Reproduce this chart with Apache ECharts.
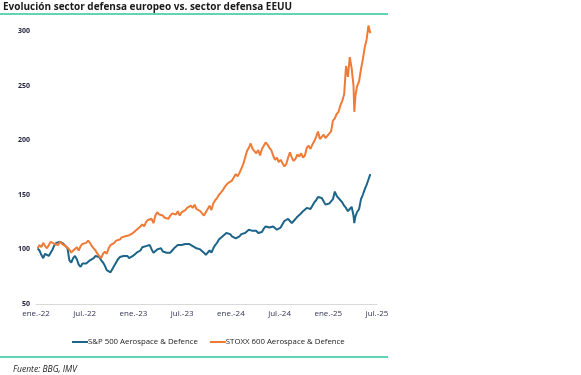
<!DOCTYPE html>
<html>
<head>
<meta charset="utf-8">
<script src="https://cdn.jsdelivr.net/npm/echarts@6/dist/echarts.min.js"></script>
<style>
html, body { margin: 0; padding: 0; background: #fff; }
#chart { width: 581px; height: 375px; }
</style>
</head>
<body>
<div id="chart"></div>
<script type="text/javascript">
// semanas (viernes) + 7-abr-25
var dates = [
	'2022-01-07','2022-01-14','2022-01-21','2022-01-28','2022-02-04','2022-02-11','2022-02-18','2022-02-25',
	'2022-03-04','2022-03-11','2022-03-18','2022-03-25','2022-04-01','2022-04-08','2022-04-14','2022-04-22','2022-04-29',
	'2022-05-06','2022-05-13','2022-05-20','2022-05-27','2022-06-03','2022-06-10','2022-06-17','2022-06-24',
	'2022-07-01','2022-07-08','2022-07-15','2022-07-22','2022-07-29','2022-08-05','2022-08-12','2022-08-19','2022-08-26',
	'2022-09-02','2022-09-09','2022-09-16','2022-09-23','2022-09-30','2022-10-07','2022-10-14','2022-10-21','2022-10-28',
	'2022-11-04','2022-11-11','2022-11-18','2022-11-25','2022-12-02','2022-12-09','2022-12-16','2022-12-23','2022-12-30',
	'2023-01-06','2023-01-13','2023-01-20','2023-01-27','2023-02-03','2023-02-10','2023-02-17','2023-02-24',
	'2023-03-03','2023-03-10','2023-03-17','2023-03-24','2023-03-31','2023-04-07','2023-04-14','2023-04-21','2023-04-28',
	'2023-05-05','2023-05-12','2023-05-19','2023-05-26','2023-06-02','2023-06-09','2023-06-16','2023-06-23','2023-06-30',
	'2023-07-07','2023-07-14','2023-07-21','2023-07-28','2023-08-04','2023-08-11','2023-08-18','2023-08-25',
	'2023-09-01','2023-09-08','2023-09-15','2023-09-22','2023-09-29','2023-10-06','2023-10-13','2023-10-20','2023-10-27',
	'2023-11-03','2023-11-10','2023-11-17','2023-11-24','2023-12-01','2023-12-08','2023-12-15','2023-12-22','2023-12-29',
	'2024-01-05','2024-01-12','2024-01-19','2024-01-26','2024-02-02','2024-02-09','2024-02-16','2024-02-23',
	'2024-03-01','2024-03-08','2024-03-15','2024-03-22','2024-03-29','2024-04-05','2024-04-12','2024-04-19','2024-04-26',
	'2024-05-03','2024-05-10','2024-05-17','2024-05-24','2024-05-31','2024-06-07','2024-06-14','2024-06-21','2024-06-28',
	'2024-07-05','2024-07-12','2024-07-19','2024-07-26','2024-08-02','2024-08-09','2024-08-16','2024-08-23','2024-08-30',
	'2024-09-06','2024-09-13','2024-09-20','2024-09-27','2024-10-04','2024-10-11','2024-10-18','2024-10-25',
	'2024-11-01','2024-11-08','2024-11-15','2024-11-22','2024-11-29','2024-12-06','2024-12-13','2024-12-20','2024-12-27',
	'2025-01-03','2025-01-10','2025-01-17','2025-01-24','2025-01-31','2025-02-07','2025-02-14','2025-02-21','2025-02-28',
	'2025-03-07','2025-03-14','2025-03-21','2025-03-28','2025-04-04','2025-04-07','2025-04-11','2025-04-17','2025-04-25',
	'2025-05-02','2025-05-09','2025-05-16','2025-05-23','2025-05-30','2025-06-06'
];

var spAero = [
	101,99,95,92, 96,97,94,93, 100,104,106,105, 107,106,105,103,101, 90,88,92,94, 91,86,84,87,
	86,87,88,90,89, 92,94,95,93, 90,88,85,81,80, 79,82,85,88, 91,93,92,94, 95,94,92,93,94,
	95,97,96,99, 102,101,103,102, 104,100,97,98,100, 99,101,98,99, 97,98,97,99, 101,102,104,103,104,
	103,105,106,105, 104,103,102,101, 102,100,99,97,95, 96,99,97,101, 104,106,109,110, 112,113,115,116,114,
	112,111,110,111, 112,114,113,115, 116,118,119,117,118, 117,115,114,116, 119,121,122,120,119, 121,120,118,119,
	120,123,126,125, 128,126,124,126,128, 130,131,133,135, 136,138,139,137, 140,143,145,148,149, 147,144,141,140,
	142,144,146,153,149, 147,145,143,140, 138,135,137,139, 131,124,130,134,137, 146,150,155,159,164, 169
];

var stoxxAero = [
	101,104,102,106, 103,101,104,107, 108,105,106,104, 107,105,106,103,104, 100,97,99,100, 102,99,103,105,
	104,106,108,106,103, 101,99,96,94, 92,96,98,96,101, 104,103,106,108, 107,109,111,110, 112,111,113,114,115,
	116,118,117,121, 123,121,125,127, 126,128,124,131,134, 132,133,131,129, 130,128,131,133, 134,132,135,131,134,
	133,136,138,137, 140,138,141,137, 136,135,133,131,134, 137,140,136,142, 145,147,150,152, 154,157,159,161,162,
	163,166,169,167, 170,174,178,184, 190,193,197,192,190, 188,191,186,192, 195,198,196,193,191, 186,182,184,180,
	182,179,176,178, 184,189,184,181,183, 187,185,188,184, 186,193,195,192, 196,199,203,208,201, 203,205,202,204,
	206,208,218,220,224, 226,232,236,242, 268,258,276,266, 250,226,240,249,254, 265,274,285,292,305, 298
];

var axisStart = '2022-01-01';
var axisEnd = '2025-07-01';
var tickLabels = ['ene.-22','jul.-22','ene.-23','jul.-23','ene.-24','jul.-24','ene.-25','jul.-25'];
var yTicks = [50, 100, 150, 200, 250, 300];

var xMin = +echarts.time.parse(axisStart);
var xMax = +echarts.time.parse(axisEnd);
var xStep = (xMax - xMin) / (tickLabels.length - 1);

function pairs(vals) {
	return vals.map(function (v, i) { return [+echarts.time.parse(dates[i]), v]; });
}

var myChart = echarts.init(document.getElementById('chart'), null, {renderer: 'canvas'});
var option = {
	animation: false,
	textStyle: { fontFamily: 'Open Sans' },
	grid: { left: 36, right: 204, top: 31, height: 273 },
	graphic: [
		{ type: 'text', left: 3, top: 2, style: { text: 'Evolución sector defensa europeo vs. sector defensa EEUU', font: 'bold 10px "Open Sans"', fill: '#1a1a1a' } },
		{ type: 'rect', shape: { x: 0, y: 13, width: 388, height: 2 }, style: { fill: '#62d4b6' } },
		{ type: 'rect', shape: { x: 0, y: 356, width: 388, height: 2 }, style: { fill: '#62d4b6' } },
		{ type: 'text', left: 13, top: 365, style: { text: 'Fuente: BBG, IMV', font: 'italic 8.5px "Open Sans"', fill: '#222' } }
	],
	legend: {
		left: 67, top: 333,
		itemWidth: 16, itemHeight: 2, itemGap: 12,
		icon: 'rect',
		textStyle: { fontSize: 7.8, color: '#222', padding: [0, 0, 0, -5] },
		data: ['S&P 500 Aerospace & Defence', 'STOXX 600 Aerospace & Defence']
	},
	xAxis: {
		type: 'value',
		min: xMin, max: xMax, interval: xStep,
		axisLine: { lineStyle: { color: '#d9d9d9', width: 1 } },
		axisTick: { show: false },
		splitLine: { show: false },
		axisLabel: {
			fontSize: 8, color: '#333355', margin: 6,
			formatter: function (val) {
				var idx = Math.round((val - xMin) / xStep);
				return tickLabels[idx] || '';
			}
		}
	},
	yAxis: {
		type: 'value',
		min: yTicks[0], max: yTicks[yTicks.length - 1], interval: 50,
		axisLine: { show: false },
		axisTick: { show: false },
		splitLine: { show: false },
		axisLabel: { fontSize: 7, fontWeight: 'bold', color: '#1f1f3a', margin: 6 }
	},
	series: [
		{
			name: 'S&P 500 Aerospace & Defence', type: 'line', showSymbol: false, clip: false,
			lineStyle: { width: 2, color: '#1c6488' }, itemStyle: { color: '#1c6488' },
			data: pairs(spAero)
		},
		{
			name: 'STOXX 600 Aerospace & Defence', type: 'line', showSymbol: false, clip: false,
			lineStyle: { width: 2, color: '#ef7b36' }, itemStyle: { color: '#ef7b36' },
			data: pairs(stoxxAero)
		}
	]
};
myChart.setOption(option);
</script>
</body>
</html>
